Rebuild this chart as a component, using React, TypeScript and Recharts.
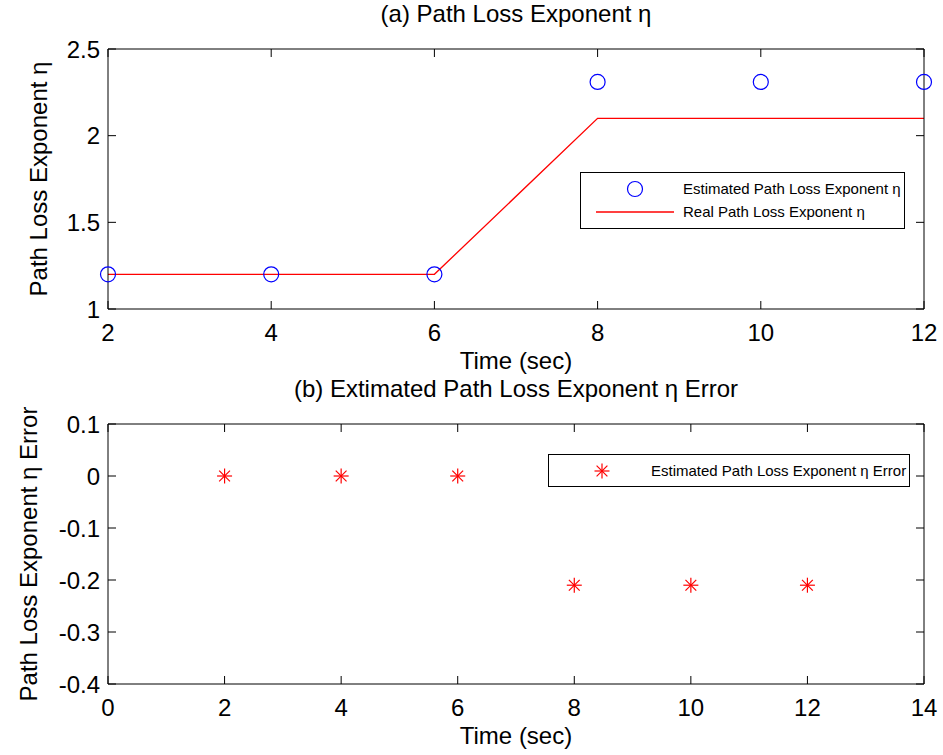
import { ComposedChart, Line, XAxis, YAxis, Legend } from "recharts";

const TIME_A = [2, 4, 6, 8, 10, 12];
const EST_A = [1.2, 1.2, 1.2, 2.31, 2.31, 2.31];
const REAL_A = [1.2, 1.2, 1.2, 2.1, 2.1, 2.1];
const X_TICKS_A = [2, 4, 6, 8, 10, 12];
const Y_TICKS_A = [1, 1.5, 2, 2.5];

const TIME_B = [2, 4, 6, 8, 10, 12];
const ERR_B = [0, 0, 0, -0.21, -0.21, -0.21];
const X_TICKS_B = [0, 2, 4, 6, 8, 10, 12, 14];
const Y_TICKS_B = [-0.4, -0.3, -0.2, -0.1, 0, 0.1];

const FONT = '"Liberation Sans", Arial, Helvetica, sans-serif';
const BLUE = "#0000ff";
const RED = "#ff0000";

function Asterisk({ cx, cy, size = 7.5 }: { cx: number; cy: number; size?: number }) {
  const d = size * 0.72;
  return (
    <g stroke={RED} strokeWidth={1.2}>
      <line x1={cx - size} y1={cy} x2={cx + size} y2={cy} />
      <line x1={cx} y1={cy - size} x2={cx} y2={cy + size} />
      <line x1={cx - d} y1={cy - d} x2={cx + d} y2={cy + d} />
      <line x1={cx - d} y1={cy + d} x2={cx + d} y2={cy - d} />
    </g>
  );
}

// tick labels hidden but tick lines kept (inner ticks, matlab style)
const noLabel = () => <g />;
const tickLineStyle = { stroke: "#000", strokeWidth: 1 };

function LegendA() {
  return (
    <div style={{ position: "relative", width: 325, height: 57, boxSizing: "border-box", border: "1px solid #000", background: "#fff", fontSize: 15, fontFamily: FONT, color: "#000" }}>
      <svg style={{ position: "absolute", left: 0, top: 0 }} width={323} height={55}>
        <circle cx={54} cy={16} r={7.5} stroke={BLUE} strokeWidth={1.2} fill="none" />
        <line x1={15} x2={93} y1={39} y2={39} stroke={RED} strokeWidth={1.3} />
      </svg>
      <div style={{ position: "absolute", left: 102, top: 7, lineHeight: "18px", whiteSpace: "nowrap" }}>Estimated Path Loss Exponent η</div>
      <div style={{ position: "absolute", left: 102, top: 30, lineHeight: "18px", whiteSpace: "nowrap" }}>Real Path Loss Exponent η</div>
    </div>
  );
}

function LegendB() {
  return (
    <div style={{ position: "relative", width: 362, height: 33, boxSizing: "border-box", border: "1px solid #000", background: "#fff", fontSize: 15, fontFamily: FONT, color: "#000" }}>
      <svg style={{ position: "absolute", left: 0, top: 0 }} width={360} height={31}>
        <Asterisk cx={53} cy={16} />
      </svg>
      <div style={{ position: "absolute", left: 102, top: 7, lineHeight: "18px", whiteSpace: "nowrap" }}>Estimated Path Loss Exponent η Error</div>
    </div>
  );
}

const tickStyle = { fill: "#000", fontSize: 24 };

export default function App() {
  const dataA = TIME_A.map((t, i) => ({ t, est: EST_A[i], real: REAL_A[i] }));
  const dataB = TIME_B.map((t, i) => ({ t, err: ERR_B[i] }));

  return (
    <div style={{ position: "absolute", left: 0, top: 0, width: 943, height: 755, background: "#fff", fontFamily: FONT, color: "#000" }}>
      <div style={{ position: "absolute", left: 108, width: 816, top: 2, textAlign: "center", fontSize: 24, lineHeight: "24px" }}>
        (a) Path Loss Exponent η
      </div>
      <div style={{ position: "absolute", left: 108, width: 816, top: 377, textAlign: "center", fontSize: 24, lineHeight: "24px" }}>
        (b) Extimated Path Loss Exponent η Error
      </div>

      <div style={{ position: "absolute", left: 0, top: 0 }}>
        <ComposedChart width={943} height={380} data={dataA} margin={{ top: 49, right: 19, bottom: 11, left: 0 }}>
          <XAxis xAxisId="x" dataKey="t" type="number" domain={[2, 12]} ticks={X_TICKS_A} height={60}
            tickLine={false} tickSize={0} tickMargin={15} stroke="#000" tick={tickStyle}
            label={{ value: "Time (sec)", position: "insideTop", offset: 43, fill: "#000", fontSize: 24 }} />
          <XAxis xAxisId="xb" dataKey="t" type="number" domain={[2, 12]} ticks={X_TICKS_A} orientation="bottom" mirror allowDataOverflow
            tick={noLabel} tickLine={tickLineStyle} tickSize={8} axisLine={false} stroke="#000" />
          <XAxis xAxisId="xt" dataKey="t" type="number" domain={[2, 12]} ticks={X_TICKS_A} orientation="top" mirror allowDataOverflow
            tick={noLabel} tickLine={tickLineStyle} tickSize={8} stroke="#000" />
          <YAxis yAxisId="y" type="number" domain={[1, 2.5]} ticks={Y_TICKS_A} width={108}
            tickLine={false} tickSize={0} tickMargin={8} stroke="#000" tick={tickStyle}
            label={{ value: "Path Loss Exponent η", angle: -90, position: "insideLeft", offset: 38, fill: "#000", fontSize: 24, style: { textAnchor: "middle" } }} />
          <YAxis yAxisId="yl" type="number" domain={[1, 2.5]} ticks={Y_TICKS_A} orientation="left" mirror allowDataOverflow
            tick={noLabel} tickLine={tickLineStyle} tickSize={8} axisLine={false} stroke="#000" />
          <YAxis yAxisId="yr" type="number" domain={[1, 2.5]} ticks={Y_TICKS_A} orientation="right" mirror allowDataOverflow
            tick={noLabel} tickLine={tickLineStyle} tickSize={8} stroke="#000" />
          {/* hidden series so the frame axes get a scale */}
          <Line xAxisId="xb" yAxisId="yl" dataKey="real" stroke="none" dot={false} activeDot={false} isAnimationActive={false} />
          <Line xAxisId="xt" yAxisId="yr" dataKey="real" stroke="none" dot={false} activeDot={false} isAnimationActive={false} />
          <Line xAxisId="x" yAxisId="y" dataKey="real" stroke={RED} strokeWidth={1.3} dot={false} isAnimationActive={false} />
          <Line xAxisId="x" yAxisId="y" dataKey="est" stroke="none"
            dot={{ r: 7.5, stroke: BLUE, strokeWidth: 1.2, fill: "none" }} activeDot={false} isAnimationActive={false} />
          <Legend layout="vertical" align="center" verticalAlign="middle" content={() => <LegendA />}
            wrapperStyle={{ left: 580, top: 172, width: 325, height: 57 }} />
        </ComposedChart>
      </div>

      <div style={{ position: "absolute", left: 0, top: 380 }}>
        <ComposedChart width={943} height={375} data={dataB} margin={{ top: 44, right: 19, bottom: 11, left: 0 }}>
          <XAxis xAxisId="x" dataKey="t" type="number" domain={[0, 14]} ticks={X_TICKS_B} height={60}
            tickLine={false} tickSize={0} tickMargin={15} stroke="#000" tick={tickStyle}
            label={{ value: "Time (sec)", position: "insideTop", offset: 43, fill: "#000", fontSize: 24 }} />
          <XAxis xAxisId="xb" dataKey="t" type="number" domain={[0, 14]} ticks={X_TICKS_B} orientation="bottom" mirror allowDataOverflow
            tick={noLabel} tickLine={tickLineStyle} tickSize={8} axisLine={false} stroke="#000" />
          <XAxis xAxisId="xt" dataKey="t" type="number" domain={[0, 14]} ticks={X_TICKS_B} orientation="top" mirror allowDataOverflow
            tick={noLabel} tickLine={tickLineStyle} tickSize={8} stroke="#000" />
          <YAxis yAxisId="y" type="number" domain={[-0.4, 0.1]} ticks={Y_TICKS_B} width={108}
            tickLine={false} tickSize={0} tickMargin={8} stroke="#000" tick={tickStyle}
            label={{ value: "Path Loss Exponent η Error", angle: -90, position: "insideLeft", offset: 28, fill: "#000", fontSize: 24, style: { textAnchor: "middle" } }} />
          <YAxis yAxisId="yl" type="number" domain={[-0.4, 0.1]} ticks={Y_TICKS_B} orientation="left" mirror allowDataOverflow
            tick={noLabel} tickLine={tickLineStyle} tickSize={8} axisLine={false} stroke="#000" />
          <YAxis yAxisId="yr" type="number" domain={[-0.4, 0.1]} ticks={Y_TICKS_B} orientation="right" mirror allowDataOverflow
            tick={noLabel} tickLine={tickLineStyle} tickSize={8} stroke="#000" />
          <Line xAxisId="xb" yAxisId="yl" dataKey="err" stroke="none" dot={false} activeDot={false} isAnimationActive={false} />
          <Line xAxisId="xt" yAxisId="yr" dataKey="err" stroke="none" dot={false} activeDot={false} isAnimationActive={false} />
          <Line xAxisId="x" yAxisId="y" dataKey="err" stroke="none" activeDot={false} isAnimationActive={false}
            dot={(p: any) => <Asterisk key={`ast-${p.index}`} cx={p.cx} cy={p.cy} />} />
          <Legend layout="vertical" align="center" verticalAlign="middle" content={() => <LegendB />}
            wrapperStyle={{ left: 548, top: 74, width: 362, height: 33 }} />
        </ComposedChart>
      </div>
    </div>
  );
}
